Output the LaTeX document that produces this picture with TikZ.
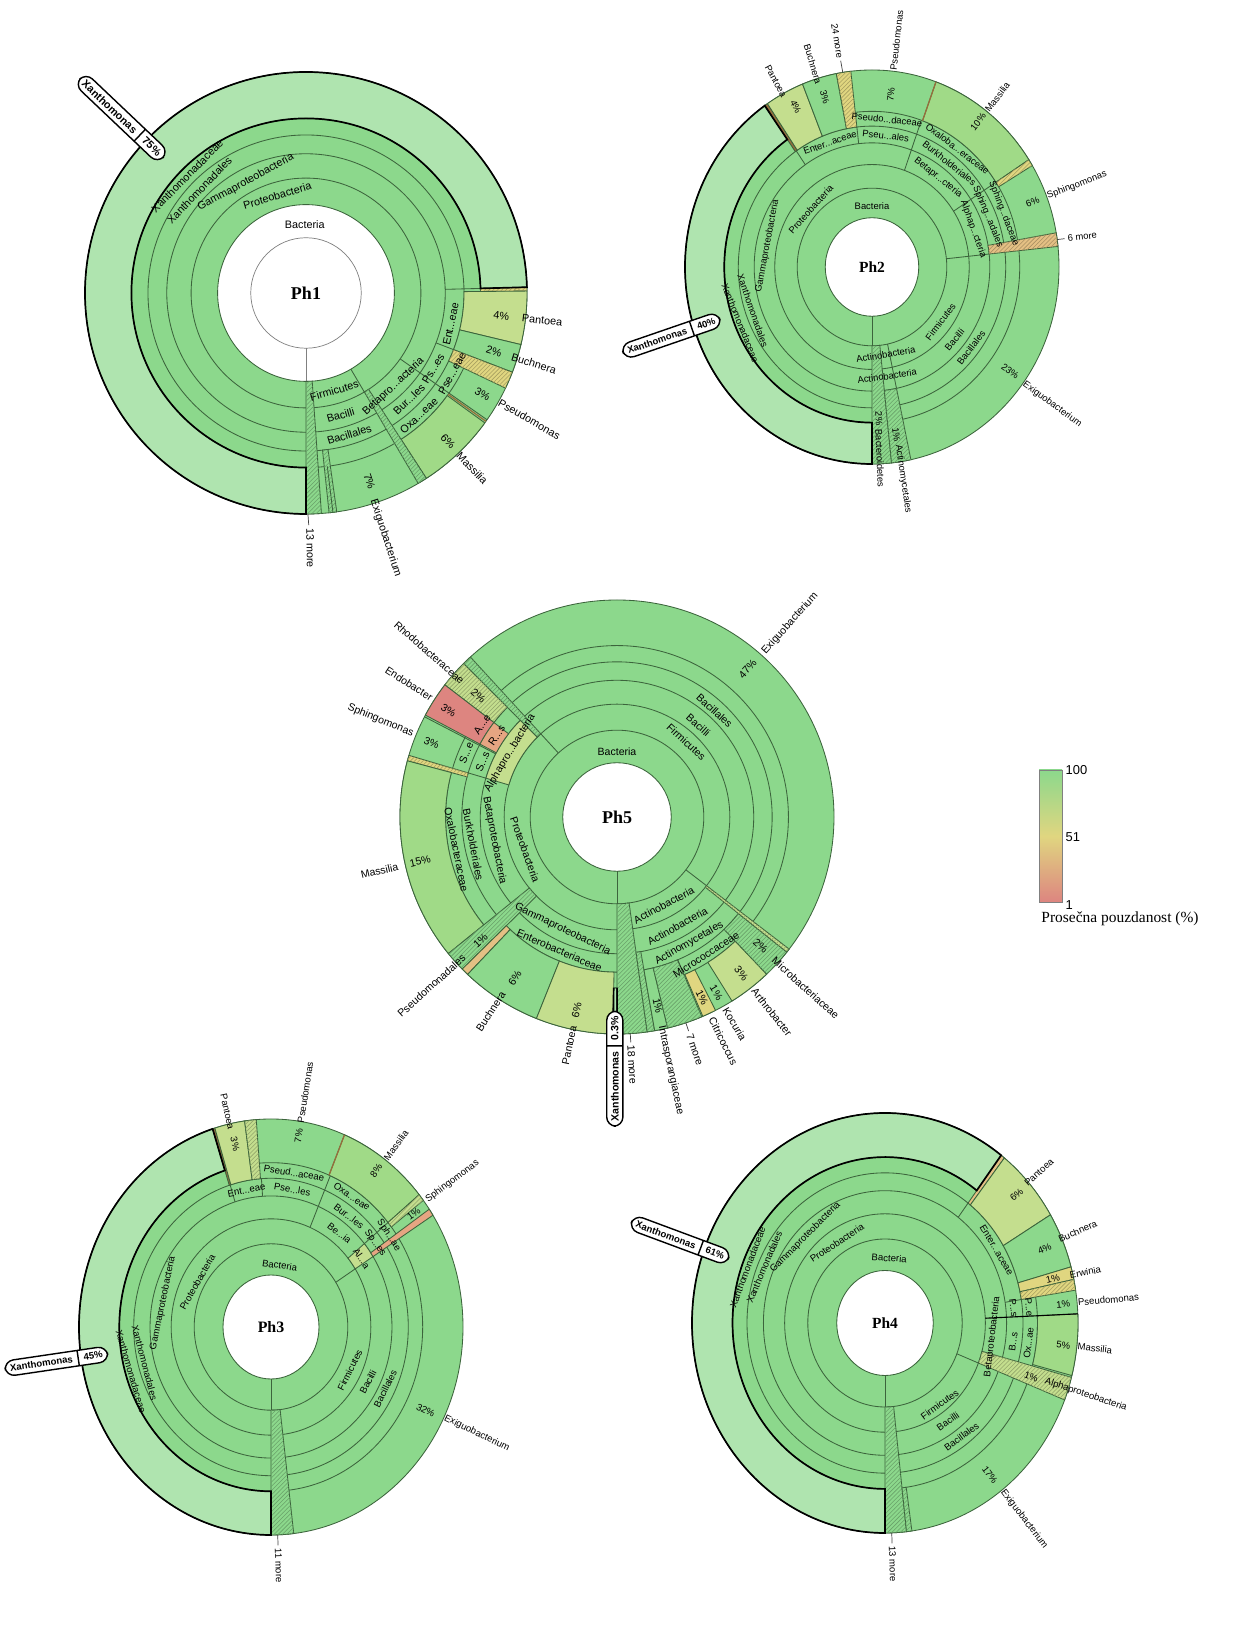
\documentclass[tikz,border=0pt]{standalone}
\usepackage{fontspec}
\setmainfont{Liberation Serif}
\setsansfont{Liberation Sans}
\usetikzlibrary{patterns,shapes.multipart}
\definecolor{kgreen}{RGB}{140,216,140}
\definecolor{klight}{RGB}{175,228,175}
\definecolor{kyg}{RGB}{196,222,142}
\definecolor{kmass}{RGB}{160,218,135}
\definecolor{kyel}{RGB}{224,214,128}
\definecolor{korange}{RGB}{228,192,132}
\definecolor{kred}{RGB}{221,133,128}
\definecolor{ksalmon}{RGB}{230,165,130}
\definecolor{kbrown}{RGB}{150,110,60}
\definecolor{kline}{RGB}{60,100,60}
\begin{document}
\begin{tikzpicture}[x=0.025cm, y=0.025cm,
    kl/.style={draw=kline, line width=0.6pt},
    sg/.style={fill=#1, draw=kline, line width=0.6pt},
    sh/.style={fill=#1, draw=kline, line width=0.6pt, postaction={pattern=north east lines, pattern color=#1!75!black}},
    xo/.style={draw=black, line width=1.2pt},
    lbl/.style={font=\sffamily\lblfs, inner sep=0.5pt},
    nmw/.style={lbl, anchor=west},
    nme/.style={lbl, anchor=east},
    phl/.style={font=\bfseries\phfs},
    xbox/.style={draw, line width=1pt, fill=white, rounded corners=6.5pt, rectangle split, rectangle split horizontal, rectangle split parts=2, font=\sffamily\bfseries\lblfs, inner xsep=3.5pt, inner ysep=3pt},
    lead/.style={draw=black!75, line width=0.5pt}]
    \def\kseg#1#2#3#4#5{\path[#1] (#2:#4) arc[start angle=#2, end angle=#3, radius=#4] -- (#3:#5) arc[start angle=#3, end angle=#2, radius=#5] -- cycle;}
    \def\lblfs{\fontsize{7}{8}\selectfont}
    \def\phfs{\fontsize{12}{14}\selectfont}
    \path[use as bounding box, fill=white] (0,0) rectangle (1250,1627);

    % Ph1
    \begin{scope}[shift={(306,1334)}, scale=2.21]
    \def\lblfs{\fontsize{7.7}{8}\selectfont}
    \def\phfs{\fontsize{12.8}{14}\selectfont}
    \fill[kgreen, even odd rule] (0,0) circle[radius=100] (0,0) circle[radius=40];
    \foreach \rr in {40,52,63,71.5,79,100} \draw[kl] (0,0) circle[radius=\rr];
    \draw[gray, line width=0.5pt] (0,0) circle[radius=25];
    \draw[gray, line width=0.5pt] (-90:25) -- (-90:40);
    \kseg{sg=klight}{1.5}{270}{79}{100}
    \kseg{sh=kyel}{0.5}{1.5}{79}{100}
    \kseg{sg=kyg}{-13.5}{0.5}{71.5}{100}
    \kseg{sg=kgreen}{-21}{-13.5}{71.5}{100}
    \kseg{sh=kyel}{-25.5}{-21}{71.5}{100}
    \kseg{sg=kmass}{-57}{-36}{79}{100}
    \kseg{sh=kgreen}{-59.5}{-57}{52}{100}
    \kseg{sh=kgreen}{-90}{-86}{40}{100}
    \kseg{sh=kgreen}{-84}{-82}{71.5}{100}
    \draw[kl] (1.5:63) -- (1.5:79);
    \draw[kl] (-21:63) -- (-21:71.5);
    \draw[kl] (-35:52) -- (-35:100);
    \draw[kl] (-59.5:40) -- (-59.5:52);
    \draw[kl] (-83:79) -- (-83:100);
    \draw[kbrown, line width=0.9pt] (-35.5:79) -- (-35.5:100);
    \kseg{xo}{1.5}{270}{79}{100}
    \node[lbl] (p1bac) at (91:31) {Bacteria};
    \node[lbl, rotate=16.4] (p1pro) at (106.4:46) {Proteobacteria};
    \node[lbl, rotate=28.6] (p1gam) at (118.6:57) {Gammaproteobacteria};
    \node[lbl, rotate=46] (p1xor) at (136:67) {Xanthomonadales};
    \node[lbl, rotate=45.4] (p1xfa) at (135.4:75.5) {Xanthomonadaceae};
    \node[lbl, rotate=16.2] (p1fir) at (-73.8:46) {Firmicutes};
    \node[lbl, rotate=15.8] (p1bci) at (-74.2:57.5) {Bacilli};
    \node[lbl, rotate=17] (p1bcs) at (-73:67) {Bacillales};
    \node[lbl, rotate=43] (p1bet) at (-47:58) {Betapro...acteria};
    \node[lbl, rotate=44.1] (p1bur) at (-45.9:67) {Bur...les};
    \node[lbl, rotate=42.6] (p1oxa) at (-47.4:75.5) {Oxa...eae};
    \node[lbl, rotate=59.2] (p1pso) at (-30.8:67) {Ps...es};
    \node[lbl, rotate=61.2] (p1psf) at (-28.8:75.5) {Pse...eae};
    \node[lbl, rotate=77.9] (p1ent) at (-12.1:67) {Ent...eae};
    \node[lbl, rotate=-6.6] (p1pan2) at (-6.6:89) {4\%};
    \node[lbl, rotate=-17.2] (p1buc2) at (-17.2:89) {2\%};
    \node[lbl, rotate=-29.7] (p1pse2) at (-29.7:92) {3\%};
    \node[lbl, rotate=-46.3] (p1mas2) at (-46.3:93) {6\%};
    \node[lbl, rotate=-71.4] (p1exi2) at (-71.4:90) {7\%};
    \node[nmw, rotate=-6.6] (p1pan) at (-6.6:98) {Pantoea};
    \node[nmw, rotate=-17.2] (p1buc) at (-17.2:97) {Buchnera};
    \node[nmw, rotate=-29.5] (p1pse) at (-29.5:100) {Pseudomonas};
    \node[nmw, rotate=-46.5] (p1mas) at (-46.5:100) {Massilia};
    \node[nmw, rotate=-72] (p1exi) at (-72:98) {Exiguobacterium};
    \coordinate (p1m) at (-89.5:100);
    \node[nmw, rotate=-89, inner sep=2pt] (p1more) at (-89:105) {13 more};
    \draw[lead] (p1m) -- (p1more);
    \node[xbox, rotate=-43.5] (p1x) at (136.5:115) {Xanthomonas\nodepart{two}75\%};
    \node[phl] (p1) at (0,0) {Ph1};
    \end{scope}

    % Ph2
    \begin{scope}[shift={(872,1360)}, xscale=1.87, yscale=1.97]
    \def\lblfs{\fontsize{6.7}{7}\selectfont}
    \def\phfs{\fontsize{11}{12}\selectfont}
    \fill[kgreen, even odd rule] (0,0) circle[radius=100] (0,0) circle[radius=25];
    \foreach \rr in {25,40,52,63,71.5,79,100} \draw[kl] (0,0) circle[radius=\rr];
    \kseg{sg=klight}{125}{270}{79}{100}
    \kseg{sg=kbrown}{124}{125}{71.5}{100}
    \kseg{sg=kyg}{111.8}{124}{71.5}{100}
    \kseg{sg=kgreen}{101}{111.8}{71.5}{100}
    \kseg{sh=kyel}{96.5}{101}{71.5}{100}
    \kseg{sg=kmass}{33}{70}{79}{100}
    \kseg{sh=kyel}{31}{33}{79}{100}
    \kseg{sh=korange}{6}{10}{63}{100}
    \kseg{sh=kgreen}{-90}{-84}{40}{100}
    \kseg{sh=kgreen}{-84}{-78}{63}{100}
    \draw[kl] (-90:25) -- (-90:40);
    \draw[kl] (6:40) -- (6:63);
    \draw[kl] (-78:40) -- (-78:63);
    \draw[kl] (70.5:52) -- (70.5:79);
    \draw[kl] (33:52) -- (33:79);
    \draw[kl] (124.5:63) -- (124.5:71.5);
    \draw[kl] (96.5:63) -- (96.5:71.5);
    \draw[kbrown, line width=0.9pt] (70:79) -- (70:100);
    \kseg{xo}{125}{270}{79}{100}
    \node[lbl] (p2bac) at (90:31) {Bacteria};
    \node[lbl, rotate=48] (p2pro) at (138:44) {Proteobacteria};
    \node[lbl, rotate=79.3] (p2gam) at (169.3:57) {Gammaproteobacteria};
    \node[lbl, rotate=-70.8] (p2xor) at (199.2:67.5) {Xanthomonadales};
    \node[lbl, rotate=-68] (p2xfa) at (202:76) {Xanthomonadaceae};
    \node[lbl, rotate=19.6] (p2ent) at (109.6:67) {Enter...aceae};
    \node[lbl, rotate=-6.3] (p2pso) at (83.7:67) {Pseu...ales};
    \node[lbl, rotate=-6.1] (p2psf) at (83.9:75.3) {Pseudo...daceae};
    \node[lbl, rotate=-37.3] (p2oxa) at (52.7:75.5) {Oxaloba...eraceae};
    \node[lbl, rotate=-38.2] (p2bur) at (51.8:67) {Burkholderiales};
    \node[lbl, rotate=-38] (p2bet) at (52:57.5) {Betapr...cteria};
    \node[lbl, rotate=-70.4] (p2alp) at (19.6:57.5) {Alphap...cteria};
    \node[lbl, rotate=-67.5] (p2sor) at (22.5:67) {Sphing...adales};
    \node[lbl, rotate=-68.9] (p2sfa) at (21.1:75.5) {Sphing...daceae};
    \node[lbl, rotate=52.8] (p2fir) at (-37.2:46) {Firmicutes};
    \node[lbl, rotate=50.1] (p2bci) at (-39.9:57.5) {Bacilli};
    \node[lbl, rotate=52.3] (p2bcs) at (-37.7:67) {Bacillales};
    \node[lbl, rotate=9.4] (p2act) at (-80.6:45) {Actinobacteria};
    \node[lbl, rotate=8.3] (p2acc) at (-81.7:56) {Actinobacteria};
    \node[lbl, rotate=-63.4] (p2pan2) at (116.6:91) {4\%};
    \node[lbl, rotate=-73.7] (p2buc2) at (106.3:90) {3\%};
    \node[lbl, rotate=83.4] (p2pse2) at (83.4:88) {7\%};
    \node[lbl, rotate=52.4] (p2mas2) at (52.4:93) {10\%};
    \node[lbl, rotate=21] (p2sph2) at (21:92) {6\%};
    \node[lbl, rotate=-35.7] (p2exi2) at (-35.7:91) {23\%};
    \node[lbl, rotate=-87.2] (p2bdt2) at (-87.2:77) {2\%};
    \node[lbl, rotate=-81.8] (p2acm2) at (-81.3:86) {1\%};
    \node[nme, rotate=-61.5] (p2pan) at (118.5:98) {Pantoea};
    \node[nme, rotate=-73] (p2buc) at (107:97) {Buchnera};
    \node[nmw, rotate=83.5] (p2pse) at (83.5:100) {Pseudomonas};
    \node[nmw, rotate=52.3] (p2mas) at (52.3:100) {Massilia};
    \node[nmw, rotate=20.9] (p2sph) at (20.9:100) {Sphingomonas};
    \node[nmw, rotate=-36.1] (p2exi) at (-36.1:100) {Exiguobacterium};
    \node[nmw, rotate=-87.5] (p2bdt) at (-87.5:82) {Bacteroidetes};
    \node[nmw, rotate=-81.5] (p2acm) at (-81.2:91) {Actinomycetales};
    \coordinate (p2m1) at (99:100);
    \node[nme, rotate=-81, inner sep=2pt] (p2more1) at (99.2:106) {24 more};
    \draw[lead] (p2m1) -- (p2more1);
    \coordinate (p2m2) at (8:100);
    \node[nmw, rotate=6, inner sep=2pt] (p2more2) at (8:104) {6 more};
    \draw[lead] (p2m2) -- (p2more2);
    \node[xbox, rotate=19] (p2x) at (198:112.8) {Xanthomonas\nodepart{two}40\%};
    \node[phl] (p2) at (0,0) {Ph2};
    \end{scope}

    % Ph5
    \begin{scope}[shift={(617,810)}, scale=2.17]
    \def\lblfs{\fontsize{7.5}{8}\selectfont}
    \def\phfs{\fontsize{12.8}{14}\selectfont}
    \fill[kgreen, even odd rule] (0,0) circle[radius=100] (0,0) circle[radius=25];
    \foreach \rr in {25,40,52,63,71.5,79,100} \draw[kl] (0,0) circle[radius=\rr];
    \kseg{sh=kgreen}{-90}{-82}{40}{100}
    \kseg{sh=kgreen}{-82}{-80}{63}{100}
    \kseg{sg=kgreen}{-80}{-76.5}{71.5}{100}
    \kseg{sh=kgreen}{-76.5}{-67}{71.5}{100}
    \kseg{sg=kyel}{-66.7}{-63}{79}{100}
    \kseg{sg=kyg}{-58}{-46.4}{79}{100}
    \kseg{sh=kgreen}{-46.4}{-38.5}{71.5}{100}
    \kseg{sh=kyg}{-38.5}{-37.5}{52}{100}
    \kseg{sh=kgreen}{132.5}{135}{52}{100}
    \kseg{sg=kyg}{135}{163.5}{52}{63}
    \kseg{sh=kyg}{135}{142.5}{71.5}{100}
    \kseg{sg=kred}{142.5}{152}{71.5}{100}
    \kseg{sg=ksalmon}{142.5}{152}{63}{71.5}
    \kseg{sh=kyel}{163.5}{165}{71.5}{100}
    \kseg{sg=kmass}{165}{219}{79}{100}
    \kseg{sh=kgreen}{219}{224.5}{52}{100}
    \kseg{sg=korange}{224.5}{226.5}{71.5}{100}
    \kseg{sg=kgreen}{226.5}{248.2}{71.5}{100}
    \kseg{sg=kyg}{248.2}{268.9}{71.5}{100}
    \kseg{sg=klight}{268.9}{270}{79}{100}
    \draw[kl] (-90:25) -- (-90:40);
    \draw[kl] (-37.5:40) -- (-37.5:52);
    \draw[kl] (132.5:40) -- (132.5:52);
    \draw[kl] (163.5:63) -- (163.5:71.5);
    \draw[kl] (152.5:63) -- (152.5:100);
    \draw[kl] (-67:71.5) -- (-67:79);
    \kseg{xo}{268.9}{270}{79}{100}
    \node[lbl] (p5bac) at (90:30) {Bacteria};
    \node[lbl, rotate=-42.8] (p5fir) at (47.2:47) {Firmicutes};
    \node[lbl, rotate=-41.5] (p5bci) at (48.5:56.5) {Bacilli};
    \node[lbl, rotate=-42.5] (p5bcs) at (47.5:66.5) {Bacillales};
    \node[lbl, rotate=-70.4] (p5pro) at (199.6:45) {Proteobacteria};
    \node[lbl, rotate=-79.2] (p5bet) at (190.8:57.5) {Betaproteobacteria};
    \node[lbl, rotate=-79.1] (p5bur) at (190.9:67.5) {Burkholderiales};
    \node[lbl, rotate=-78.5] (p5oxa) at (191.5:75.5) {Oxalobacteraceae};
    \node[lbl, rotate=59] (p5alp) at (149:57.5) {Alphapro...bacteria};
    \node[lbl, rotate=-25.8] (p5gam) at (244.2:57.5) {Gammaproteobacteria};
    \node[lbl, rotate=-23.3] (p5ent) at (246.7:67) {Enterobacteriaceae};
    \node[lbl, rotate=28] (p5act) at (-62:46) {Actinobacteria};
    \node[lbl, rotate=29] (p5acc) at (-61:57.5) {Actinobacteria};
    \node[lbl, rotate=29.8] (p5aco) at (-60.2:67) {Actinomycetales};
    \node[lbl, rotate=32.9] (p5mic) at (-57.1:75.5) {Micrococcaceae};
    \node[lbl, rotate=55.5] (p5ace) at (145.5:75.5) {A...e};
    \node[lbl, rotate=55.9] (p5rho) at (145.9:67) {R...s};
    \node[lbl, rotate=67] (p5sfa) at (157:75.5) {S...e};
    \node[lbl, rotate=67.6] (p5sor) at (157.6:67) {S...s};
    \node[lbl, rotate=48.6] (p5exi2) at (48.6:91) {47\%};
    \node[lbl, rotate=-41.2] (p5rhb2) at (138.8:85) {2\%};
    \node[lbl, rotate=-32.4] (p5end2) at (147.6:92) {3\%};
    \node[lbl, rotate=-21.8] (p5sph2) at (158.2:92) {3\%};
    \node[lbl, rotate=12.7] (p5mas2) at (192.7:93) {15\%};
    \node[lbl, rotate=42.3] (p5psd2) at (222.3:85) {1\%};
    \node[lbl, rotate=57.7] (p5buc2) at (237.7:88) {6\%};
    \node[lbl, rotate=78.2] (p5pan2) at (258.2:91) {6\%};
    \node[lbl, rotate=-77.8] (p5int2) at (-77.8:89) {1\%};
    \node[lbl, rotate=-63.4] (p5cit2) at (-64.8:92) {1\%};
    \node[lbl, rotate=-58.8] (p5koc2) at (-60.5:93) {1\%};
    \node[lbl, rotate=-51.5] (p5art2) at (-51.5:92) {3\%};
    \node[lbl, rotate=-42] (p5mib2) at (-42:89) {2\%};
    \node[nme, rotate=-41.2] (p5rhb) at (138.8:94) {Rhodobacteraceae};
    \node[nme, rotate=-32.7] (p5end) at (147.3:101) {Endobacter};
    \node[nme, rotate=-22.2] (p5sph) at (157.8:101) {Sphingomonas};
    \node[nme, rotate=12.8] (p5mas) at (192.8:103) {Massilia};
    \node[nme, rotate=42.3] (p5psd) at (222.3:95) {Pseudomonadales};
    \node[nme, rotate=57] (p5buc) at (237:96) {Buchnera};
    \node[nme, rotate=78.2] (p5pan) at (258.2:98) {Pantoea};
    \node[nmw, rotate=48.2] (p5exi) at (48.2:101) {Exiguobacterium};
    \node[nmw, rotate=-78] (p5int) at (-78:98) {Intrasporangiaceae};
    \node[nmw, rotate=-63.4] (p5cit) at (-64.8:102) {Citricoccus};
    \node[nmw, rotate=-59.1] (p5koc) at (-60.5:101) {Kocuria};
    \node[nmw, rotate=-51.6] (p5art) at (-51.6:101) {Arthrobacter};
    \node[nmw, rotate=-42.2] (p5mib) at (-42.2:97) {Microbacteriaceae};
    \coordinate (p5m1) at (-86.5:100);
    \node[nmw, rotate=-86.5, inner sep=2pt] (p5more1) at (-86.5:104) {18 more};
    \draw[lead] (p5m1) -- (p5more1);
    \coordinate (p5m2) at (-71.5:100);
    \node[nmw, rotate=-71.5, inner sep=2pt] (p5more2) at (-71.5:104) {7 more};
    \draw[lead] (p5m2) -- (p5more2);
    \node[xbox, rotate=90] (p5x) at (-90.5:116) {Xanthomonas\nodepart{two}0.3\%};
    \coordinate (p5s) at (-90.55:79);
    \draw[double=klight, double distance=1.2pt, line width=0.6pt] (p5s) -- (p5x);
    \node[phl] (p5) at (0,0) {Ph5};
    \end{scope}

    % Ph3
    \begin{scope}[shift={(271,300)}, xscale=1.92, yscale=2.08]
    \def\lblfs{\fontsize{6.8}{7}\selectfont}
    \def\phfs{\fontsize{11.3}{12}\selectfont}
    \fill[kgreen, even odd rule] (0,0) circle[radius=100] (0,0) circle[radius=25];
    \foreach \rr in {25,40,52,63,71.5,79,100} \draw[kl] (0,0) circle[radius=\rr];
    \kseg{sg=klight}{107.7}{270}{79}{100}
    \kseg{sg=kbrown}{107}{107.7}{71.5}{100}
    \kseg{sg=kyg}{97.9}{107}{71.5}{100}
    \kseg{sh=kyg}{94.4}{97.9}{71.5}{100}
    \kseg{sg=kmass}{39.5}{67.5}{79}{100}
    \kseg{sh=kyg}{37.5}{39.5}{79}{100}
    \kseg{sg=kyg}{32.5}{39.5}{52}{63}
    \kseg{sg=ksalmon}{32.5}{34.5}{63}{100}
    \kseg{sh=kgreen}{-90}{-83.2}{40}{100}
    \draw[kl] (-90:25) -- (-90:40);
    \draw[kl] (32.5:40) -- (32.5:52);
    \draw[kl] (67:52) -- (67:79);
    \draw[kl] (39.5:63) -- (39.5:79);
    \draw[kl] (107.3:63) -- (107.3:71.5);
    \draw[kl] (94:63) -- (94:71.5);
    \draw[kbrown, line width=0.9pt] (67.5:79) -- (67.5:100);
    \kseg{xo}{107.7}{270}{79}{100}
    \node[lbl, rotate=-8.7] (p3bac) at (81.3:30) {Bacteria};
    \node[lbl, rotate=60.6] (p3pro) at (150.6:44) {Proteobacteria};
    \node[lbl, rotate=78.4] (p3gam) at (168.4:57.5) {Gammaproteobacteria};
    \node[lbl, rotate=-75.4] (p3xor) at (194.6:68) {Xanthomonadales};
    \node[lbl, rotate=-73.6] (p3xfa) at (196.4:76) {Xanthomonadaceae};
    \node[lbl, rotate=11] (p3ent) at (101:67) {Ent...eae};
    \node[lbl, rotate=-9.2] (p3psf) at (80.8:75) {Pseud...aceae};
    \node[lbl, rotate=-9.5] (p3pso) at (80.5:67) {Pse...les};
    \node[lbl, rotate=-38.3] (p3bet) at (51.7:57.5) {Be...ia};
    \node[lbl, rotate=-37.3] (p3bur) at (52.7:67) {Bur...les};
    \node[lbl, rotate=-33.9] (p3oxa) at (56.1:75.5) {Oxa...eae};
    \node[lbl, rotate=-55.1] (p3alp) at (34.9:57.5) {Al...a};
    \node[lbl, rotate=-53.4] (p3sor) at (36.6:67.5) {Sp...es};
    \node[lbl, rotate=-57] (p3sfa) at (35.7:75.5) {Sph...ae};
    \node[lbl, rotate=63.3] (p3fir) at (-26.7:46) {Firmicutes};
    \node[lbl, rotate=62.4] (p3bci) at (-27.6:57) {Bacilli};
    \node[lbl, rotate=63.5] (p3bcs) at (-26.5:66.5) {Bacillales};
    \node[lbl, rotate=-78] (p3pan2) at (102:90) {3\%};
    \node[lbl, rotate=81.1] (p3pse2) at (81.1:93) {7\%};
    \node[lbl, rotate=53.9] (p3mas2) at (53.9:93) {8\%};
    \node[lbl, rotate=36.1] (p3sph2) at (36.1:92) {1\%};
    \node[lbl, rotate=-26.5] (p3exi2) at (-26.5:90) {32\%};
    \node[nme, rotate=-77.7] (p3pan) at (102.3:97) {Pantoea};
    \node[nmw, rotate=81.1] (p3pse) at (81.1:99) {Pseudomonas};
    \node[nmw, rotate=53.5] (p3mas) at (53.5:100) {Massilia};
    \node[nmw, rotate=36.9] (p3sph) at (36.9:101) {Sphingomonas};
    \node[nmw, rotate=-25.8] (p3exi) at (-25.8:100) {Exiguobacterium};
    \coordinate (p3m) at (-88:100);
    \node[nmw, rotate=-88, inner sep=2pt] (p3more) at (-88:105) {11 more};
    \draw[lead] (p3m) -- (p3more);
    \node[xbox, rotate=8.4] (p3x) at (188.4:113) {Xanthomonas\nodepart{two}45\%};
    \node[phl] (p3) at (0,0) {Ph3};
    \end{scope}

    % Ph4
    \begin{scope}[shift={(885,304)}, xscale=1.93, yscale=2.10]
    \def\lblfs{\fontsize{6.8}{7}\selectfont}
    \def\phfs{\fontsize{11}{12}\selectfont}
    \fill[kgreen, even odd rule] (0,0) circle[radius=100] (0,0) circle[radius=25];
    \foreach \rr in {25,40,52,63,71.5,79,100} \draw[kl] (0,0) circle[radius=\rr];
    \kseg{sg=klight}{53}{270}{79}{100}
    \kseg{sg=korange}{51.8}{53}{71.5}{100}
    \kseg{sg=kyg}{31}{51.8}{71.5}{100}
    \kseg{sg=kgreen}{15.5}{31}{71.5}{100}
    \kseg{sg=kyel}{12}{15.5}{71.5}{100}
    \kseg{sh=kyel}{9}{12}{71.5}{100}
    \kseg{sg=kmass}{-14.5}{2.5}{79}{100}
    \kseg{sh=kyg}{-21.5}{-15}{52}{100}
    \kseg{sh=kgreen}{-90}{-83.6}{40}{100}
    \kseg{sh=kgreen}{-83.6}{-82}{79}{100}
    \draw[kl] (-90:25) -- (-90:40);
    \draw[kl] (-21.5:40) -- (-21.5:52);
    \draw[kl] (53:63) -- (53:71.5);
    \draw[kl] (9:63) -- (9:71.5);
    \draw[black, line width=0.8pt] (2.5:52) -- (2.5:100);
    \kseg{xo}{53}{270}{79}{100}
    \node[lbl, rotate=-4] (p4bac) at (86:31) {Bacteria};
    \node[lbl, rotate=33.2] (p4pro) at (123.2:45.5) {Proteobacteria};
    \node[lbl, rotate=45.3] (p4gam) at (135.3:58) {Gammaproteobacteria};
    \node[lbl, rotate=66.9] (p4xor) at (156.9:68) {Xanthomonadales};
    \node[lbl, rotate=69.5] (p4xfa) at (159.5:76) {Xanthomonadaceae};
    \node[lbl, rotate=-59] (p4ent) at (31:67.5) {Enter...aceae};
    \node[lbl, rotate=-82.6] (p4pso) at (6.2:67) {P...s};
    \node[lbl, rotate=-84] (p4psf) at (5.8:75) {P...e};
    \node[lbl, rotate=82.4] (p4bur) at (-7.6:67) {B...s};
    \node[lbl, rotate=82.6] (p4oxa) at (-7.4:75) {Ox...ae};
    \node[lbl, rotate=83.3] (p4bet) at (-6.7:56) {Betaproteobacteria};
    \node[lbl, rotate=36.1] (p4fir) at (-53.9:48) {Firmicutes};
    \node[lbl, rotate=34.9] (p4bci) at (-55.1:57) {Bacilli};
    \node[lbl, rotate=36.3] (p4bcs) at (-53.7:67) {Bacillales};
    \node[lbl, rotate=41.8] (p4pan2) at (41.8:91.5) {6\%};
    \node[lbl, rotate=23.2] (p4buc2) at (23.2:90) {4\%};
    \node[lbl, rotate=13.2] (p4erw2) at (13.6:89.5) {1\%};
    \node[lbl, rotate=5.3] (p4pse2) at (5.5:92.8) {1\%};
    \node[lbl, rotate=-6.5] (p4mas2) at (-6.5:93) {5\%};
    \node[lbl, rotate=-19.3] (p4alp2) at (-18.6:80) {1\%};
    \node[lbl, rotate=-53.1] (p4exi2) at (-53.1:90.5) {17\%};
    \node[nmw, rotate=42.2] (p4pan) at (42.2:98) {Pantoea};
    \node[nmw, rotate=23.8] (p4buc) at (23.8:98) {Buchnera};
    \node[nmw, rotate=10] (p4erw) at (13.5:98) {Erwinia};
    \node[nmw, rotate=5] (p4pse) at (5.6:100) {Pseudomonas};
    \node[nmw, rotate=-6.4] (p4mas) at (-6.4:100) {Massilia};
    \node[nmw, rotate=-18.6] (p4alp) at (-18.4:87) {Alphaproteobacteria};
    \node[nmw, rotate=-52.7] (p4exi) at (-52.7:100) {Exiguobacterium};
    \coordinate (p4m) at (-88:100);
    \node[nmw, rotate=-88, inner sep=2pt] (p4more) at (-88:105) {13 more};
    \draw[lead] (p4m) -- (p4more);
    \node[xbox, rotate=-20.4] (p4x) at (159.6:113.3) {Xanthomonas\nodepart{two}61\%};
    \node[phl] (p4) at (0,0) {Ph4};
    \end{scope}

    % legend
    \shade[top color=kgreen, bottom color=kred, middle color=kyel] (1039,725) rectangle (1062,857);
    \draw[gray, line width=0.5pt] (1039,725) rectangle (1062,857);
    \node[anchor=west, font=\sffamily\fontsize{9.2}{10}\selectfont, inner sep=1pt] (lg100) at (1064,857) {100};
    \node[anchor=west, font=\sffamily\fontsize{9.2}{10}\selectfont, inner sep=1pt] (lg51) at (1064,790) {51};
    \node[anchor=west, font=\sffamily\fontsize{9.2}{10}\selectfont, inner sep=1pt] (lg1) at (1064,722) {1};
    \node[font=\fontsize{11}{13}\selectfont] (lgcap) at (1120,708) {Prosečna pouzdanost (\%)};
\end{tikzpicture}
\end{document}
